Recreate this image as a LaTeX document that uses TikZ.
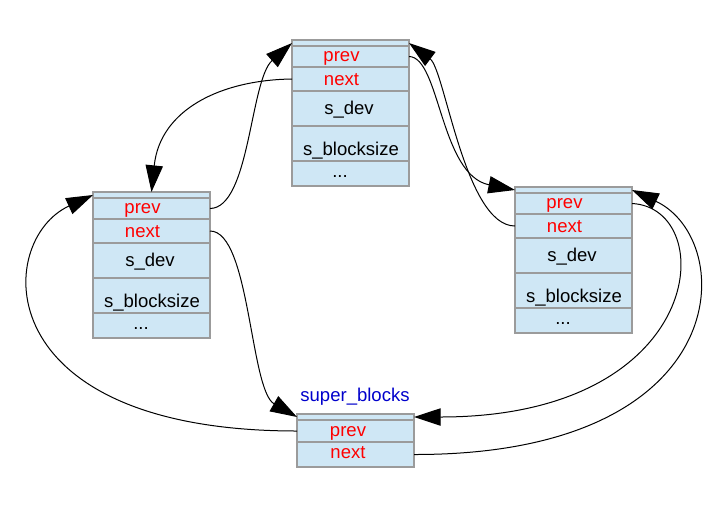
\documentclass[tikz,border=0pt]{standalone}
\usepackage{fontspec}
\setmainfont{Liberation Sans}
\usetikzlibrary{arrows.meta,calc}
\definecolor{cellfill}{RGB}{207,231,245}
\definecolor{cellline}{RGB}{155,155,155}
\definecolor{lblred}{RGB}{255,0,0}
\definecolor{lblblue}{RGB}{0,0,204}
\tikzset{
  cell/.style={draw=cellline, fill=cellfill, line width=1.1pt, minimum width=87.75pt,
               inner sep=0pt, outer sep=0pt, anchor=north west},
  lbl/.style={font=\fontsize{13.9pt}{16pt}\selectfont, inner sep=0pt, anchor=base},
  link/.style={line width=0.75pt, -{Triangle[length=20pt,width=13pt]}}
}
\newcommand\fullbox[3]{%
  \node[cell, minimum height=4.5pt]   (#1s) at (#2,#3) {};
  \node[cell, minimum height=15.75pt] (#1p) at (#1s.south west) {};
  \node[cell, minimum height=18pt]    (#1n) at (#1p.south west) {};
  \node[cell, minimum height=26.25pt] (#1d) at (#1n.south west) {};
  \node[cell, minimum height=26.25pt] (#1b) at (#1d.south west) {};
  \node[cell, minimum height=18.75pt] (#1e) at (#1b.south west) {};
  \node[lbl, text=lblred] (#1pt) at ($(#2,#3)+(49.5,21)$) {prev};
  \node[lbl, text=lblred] (#1nt) at ($(#2,#3)+(49.5,45)$) {next};
  \node[lbl] (#1dt) at ($(#2,#3)+(57,74)$) {s\_dev};
  \node[lbl] (#1bt) at ($(#2,#3)+(59,115)$) {s\_blocksize};
  \node[lbl] (#1et) at ($(#2,#3)+(48,137.5)$) {...};
}
\begin{document}
\begin{tikzpicture}[x=0.75pt,y=-0.75pt]
  \useasboundingbox[fill=white] (0,0) rectangle (727,514);
  \fullbox{T}{292}{40}
  \fullbox{L}{93}{192}
  \fullbox{R}{515}{187}
  % super_blocks
  \node[cell, minimum height=4.5pt]  (Ss) at (297,414) {};
  \node[cell, minimum height=16.5pt] (Sp) at (Ss.south west) {};
  \node[cell, minimum height=18.75pt] (Sn) at (Sp.south west) {};
  \node[lbl, text=lblred] (Spt) at (348,436) {prev};
  \node[lbl, text=lblred] (Snt) at (348,458.5) {next};
  \node[lbl, text=lblblue] (Slbl) at (355,401) {super\_blocks};
  % connectors
  \draw[link] (Lp.east) .. controls (250,208) and (250,80) .. (Ts.west);
  \draw[link] (Tn.west) .. controls (220,80) and (160,110) .. (Ls.north);
  \draw[link] (Tp.east) .. controls (440,57) and (440,175) .. (Rs.west);
  \draw[link] (Rn.west) .. controls (465,226) and (445,70) .. (Ts.east);
  \draw[link] (Rp.east) .. controls (720,208) and (708,417) .. (Ss.east);
  \draw[link] (Sn.east) .. controls (738,455) and (738,240) .. (Rs.east);
  \draw[link] (Sp.west) .. controls (-15,431) and (-5,240) .. (Ls.west);
  \draw[link] (Ln.east) .. controls (250,231) and (250,390) .. (Ss.west);
\end{tikzpicture}
\end{document}
